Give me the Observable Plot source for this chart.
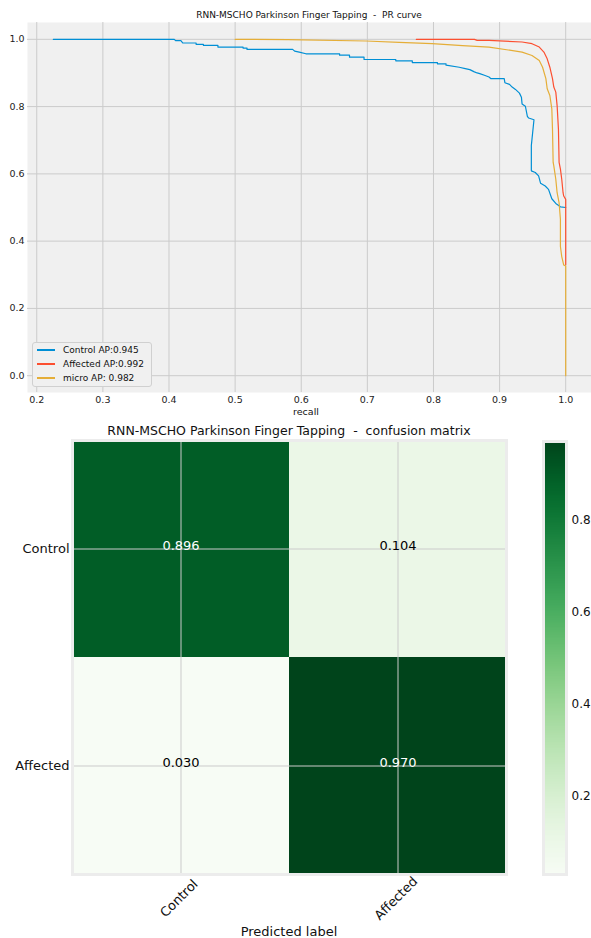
<!DOCTYPE html>
<html><head><meta charset="utf-8">
<script src="https://cdn.jsdelivr.net/npm/d3@7"></script>
<script src="https://cdn.jsdelivr.net/npm/@observablehq/plot@0.6"></script>
<style>
body{margin:0;background:#fff;font-family:"DejaVu Sans",sans-serif;color:#111;}
#root{position:relative;width:591px;height:938px;overflow:hidden;}
.abs{position:absolute;}
.ctr{transform:translate(-50%,-50%);white-space:nowrap;}
</style></head><body><div id="root"></div>
<script>
// ---- PR curve data ----
const controlRecall = [0.225,0.408,0.410,0.418,0.421,0.441,0.441,0.452,0.452,0.474,0.474,0.512,0.512,0.518,0.518,0.587,0.590,0.597,0.607,0.658,0.658,0.673,0.673,0.695,0.695,0.743,0.743,0.768,0.768,0.806,0.806,0.819,0.819,
  0.839,0.848,0.855,0.861,0.866,0.870,0.877,0.884,0.887,0.907,0.908,0.915,0.919,0.924,0.930,0.933,0.934,0.939,0.942,0.944,0.952,0.948,0.948,0.954,0.959,0.962,0.969,0.974,0.979,0.985,0.992,1.0];
const controlPrecision = [1.0,1.0,0.996,0.996,0.989,0.989,0.985,0.985,0.982,0.982,0.977,0.977,0.974,0.974,0.970,0.970,0.965,0.962,0.957,0.957,0.953,0.953,0.947,0.947,0.940,0.940,0.936,0.936,0.931,0.931,0.927,0.927,0.923,
  0.917,0.913,0.910,0.904,0.900,0.898,0.893,0.888,0.883,0.883,0.871,0.866,0.858,0.851,0.840,0.828,0.808,0.801,0.771,0.766,0.761,0.684,0.609,0.604,0.594,0.572,0.564,0.554,0.526,0.512,0.502,0.500];

const affectedRecall = [0.774,0.862,0.866,0.884,0.934,0.949,0.960,0.967,0.972,0.976,0.980,0.982,0.985,0.987,0.989,0.990,0.992,0.994,0.996,0.997,1.0,1.0];
const affectedPrecision = [1.0,1.0,0.997,0.997,0.992,0.987,0.977,0.962,0.942,0.917,0.883,0.858,0.843,0.803,0.733,0.634,0.614,0.584,0.544,0.534,0.524,0.330];

const microRecall = [0.500,0.580,0.698,0.748,0.798,0.844,0.884,0.934,0.949,0.960,0.965,0.970,0.972,0.976,0.979,0.980,0.981,0.982,0.985,0.987,0.990,0.992,0.992,0.994,0.997,1.0,1.0];
const microPrecision = [1.0,0.999,0.995,0.991,0.987,0.981,0.977,0.962,0.952,0.937,0.917,0.883,0.853,0.833,0.793,0.733,0.634,0.624,0.584,0.544,0.514,0.465,0.384,0.354,0.329,0.326,0.0];

const prXTicks = [0.2,0.3,0.4,0.5,0.6,0.7,0.8,0.9,1.0];
const prYTicks = [0.0,0.2,0.4,0.6,0.8,1.0];
const legendLabels = ["Control AP:0.945","Affected AP:0.992","micro AP: 0.982"];
const seriesColors = ["#008fd5","#fc4f30","#e5ae38"];

// ---- confusion matrix data ----
const classes = ["Control","Affected"];
const cmValues = [[0.896,0.104],[0.030,0.970]];
const cbTicks = [0.2,0.4,0.6,0.8];

const root = document.getElementById("root");
function addText(txt, x, y, size, extra){
  const d = document.createElement("div");
  d.className = "abs ctr";
  d.style.left = x+"px"; d.style.top = y+"px";
  d.style.fontSize = size+"px";
  if (extra) Object.assign(d.style, extra);
  d.textContent = txt;
  root.appendChild(d);
  return d;
}

const toPts = (r,p) => r.map((v,i)=>({recall:v, precision:p[i]}));
const series = [toPts(controlRecall,controlPrecision), toPts(affectedRecall,affectedPrecision), toPts(microRecall,microPrecision)];

// ---- PR plot ----
const pr = Plot.plot({
  width:591, height:400, marginTop:0, marginLeft:27, marginRight:0, marginBottom:30,
  style:{fontFamily:"DejaVu Sans", fontSize:"9.5px", background:"transparent", color:"#222", overflow:"visible"},
  x:{domain:[0.186,1.039]},
  y:{domain:[-0.05,1.05]},
  marks:[
    Plot.frame({fill:"#f0f0f0", stroke:null}),
    Plot.gridX(prXTicks,{stroke:"#cbcbcb", strokeOpacity:1, strokeWidth:1}),
    Plot.gridY(prYTicks,{stroke:"#cbcbcb", strokeOpacity:1, strokeWidth:1}),
    Plot.axisX(prXTicks,{tickSize:0, tickPadding:4, tickFormat:d3.format(".1f"), label:null}),
    Plot.axisY(prYTicks,{tickSize:0, tickPadding:3, tickFormat:d3.format(".1f"), label:null}),
    ...series.map((s,i)=>Plot.line(s,{x:"recall", y:"precision", stroke:seriesColors[i], strokeWidth:1.2}))
  ]
});
pr.style.position="absolute"; pr.style.left="0px"; pr.style.top="22px";
root.appendChild(pr);

addText("RNN-MSCHO Parkinson Finger Tapping  -  PR curve", 309, 15, 9, {whiteSpace:"pre"});
addText("recall", 306, 411, 9.5);

// legend
const leg = document.createElement("div");
leg.className="abs";
Object.assign(leg.style,{left:"32px", top:"342px", width:"120px", height:"45px", background:"#f0f0f0", border:"1px solid #d0d0d0", borderRadius:"3px", boxSizing:"border-box"});
root.appendChild(leg);
legendLabels.forEach((lab,i)=>{
  const y = 350 + i*14;
  const ln = document.createElement("div");
  ln.className="abs";
  Object.assign(ln.style,{left:"37px", top:(y-0.6)+"px", width:"18px", height:"1.3px", background:seriesColors[i]});
  root.appendChild(ln);
  const t = document.createElement("div");
  t.className="abs";
  Object.assign(t.style,{left:"63px", top:(y-6)+"px", fontSize:"9px", lineHeight:"12px", whiteSpace:"pre"});
  t.textContent = lab;
  root.appendChild(t);
});

// ---- confusion matrix ----
const cmData = [];
classes.forEach((a,i)=>classes.forEach((p,j)=>cmData.push({actual:a, predicted:p, value:cmValues[i][j]})));
const colorOpts = {type:"linear", scheme:"greens", domain:[0.03,0.97]};

const cm = Plot.plot({
  width:506, height:498, marginTop:0, marginLeft:72, marginRight:0, marginBottom:64,
  style:{fontFamily:"DejaVu Sans", fontSize:"13px", background:"transparent", color:"#111", overflow:"visible"},
  x:{domain:classes, padding:0, axis:null},
  y:{domain:classes, padding:0},
  color:colorOpts,
  marks:[
    Plot.cell(cmData,{x:"predicted", y:"actual", fill:"value"}),
    Plot.gridX({stroke:"#cbcbcb", strokeOpacity:1, strokeWidth:1}),
    Plot.gridY({stroke:"#cbcbcb", strokeOpacity:1, strokeWidth:1}),
    Plot.frame({stroke:"#ececec", strokeWidth:3}),
    Plot.text(cmData,{filter:d=>d.value>0.5, x:"predicted", y:"actual", text:d=>d.value.toFixed(3), fill:"white", fontSize:13, dy:-3}),
    Plot.text(cmData,{filter:d=>d.value<=0.5, x:"predicted", y:"actual", text:d=>d.value.toFixed(3), fill:"black", fontSize:13, dy:-3}),
    Plot.axisY({tickSize:0, tickPadding:3, fontSize:13, label:null}),
    Plot.text(classes,{x:d=>d, text:d=>d, frameAnchor:"bottom", dy:27, dx:1, rotate:-45, fontSize:13, fill:"#111"})
  ]
});
cm.style.position="absolute"; cm.style.left="0px"; cm.style.top="440px";
root.appendChild(cm);

addText("RNN-MSCHO Parkinson Finger Tapping  -  confusion matrix", 289, 430, 12.5, {whiteSpace:"pre"});
addText("Predicted label", 289, 931, 13);

// colorbar
const cb = Plot.plot({
  width:51, height:436, marginLeft:3, marginRight:25, marginTop:1, marginBottom:2,
  style:{fontFamily:"DejaVu Sans", fontSize:"12px", background:"transparent", color:"#111", overflow:"visible"},
  x:{domain:[0,1], axis:null},
  y:{domain:[0.03,0.97]},
  color:colorOpts,
  marks:[
    Plot.raster({x1:0, x2:1, y1:0.03, y2:0.97, width:1, height:256, fill:(x,y)=>y}),
    Plot.frame({stroke:"#ececec", strokeWidth:3}),
    Plot.axisY(cbTicks,{anchor:"right", tickSize:0, tickPadding:5, fontSize:12, label:null, tickFormat:d3.format(".1f")})
  ]
});
cb.style.position="absolute"; cb.style.left="540px"; cb.style.top="440px";
root.appendChild(cb);
</script></body></html>
